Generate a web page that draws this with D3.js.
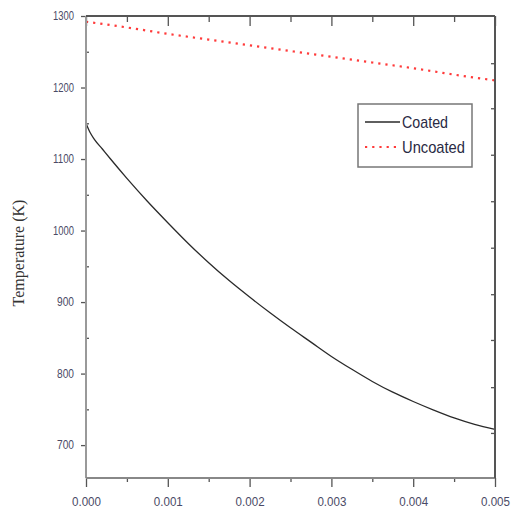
<!DOCTYPE html>
<html>
<head>
<meta charset="utf-8">
<script src="https://cdn.jsdelivr.net/npm/d3@7"></script>
<style>
  body { margin: 0; background: #fff; }
  svg { display: block; }
  .tick-label { font-family: "Liberation Sans", Arial, sans-serif; font-size: 12px; fill: #4a4a66; }
</style>
</head>
<body>
<div id="chart"></div>
<script>
// time (s) and temperatures (K)
var timeCoated = [0, 0.00005, 0.0001, 0.0002, 0.0003, 0.0005, 0.00075, 0.001, 0.00125, 0.0015, 0.00175,
                  0.002, 0.00225, 0.0025, 0.00275, 0.003, 0.00325, 0.0035, 0.00375, 0.004, 0.00425,
                  0.0045, 0.00475, 0.005];
var tempCoated = [1150, 1137, 1128, 1114, 1100, 1073, 1041, 1011, 982, 955, 930,
                  907, 885, 864, 844, 824, 806, 789, 774, 761, 749,
                  738, 729, 722];
var timeUncoated = [0, 0.0005, 0.001, 0.0015, 0.002, 0.0025, 0.003, 0.0035, 0.004, 0.0045, 0.005];
var tempUncoated = [1292, 1284, 1275, 1267, 1259, 1251, 1243, 1235, 1227, 1218, 1210];

var xTicks = [0, 0.001, 0.002, 0.003, 0.004, 0.005];
var xMinor = [0.0005, 0.0015, 0.0025, 0.0035, 0.0045];
var yTicks = [700, 800, 900, 1000, 1100, 1200, 1300];
var yMinor = [750, 850, 950, 1050, 1150, 1250];
var yRightTicks = [717, 781, 847, 911, 976, 1041, 1106, 1171, 1234];

var seriesNames = ["Coated", "Uncoated"];

var width = 512, height = 513;
var margin = {top: 16, right: 17, bottom: 35, left: 86};
var w = width - margin.left - margin.right,
    h = height - margin.top - margin.bottom;

var x = d3.scaleLinear().domain([0, 0.005]).range([0, w]);
var y = d3.scaleLinear().domain([654, 1300]).range([h, 0]);

var svg = d3.select("#chart").append("svg")
    .attr("width", width)
    .attr("height", height);

var g = svg.append("g")
    .attr("transform", "translate(" + margin.left + "," + margin.top + ")");

// curves
var coated = timeCoated.map(function(t, i) { return [t, tempCoated[i]]; });
var uncoated = timeUncoated.map(function(t, i) { return [t, tempUncoated[i]]; });

var line = d3.line()
    .x(function(d) { return x(d[0]); })
    .y(function(d) { return y(d[1]); })
    .curve(d3.curveMonotoneX);

g.append("path")
    .datum(coated)
    .attr("d", line)
    .attr("fill", "none")
    .attr("stroke", "#2a2a2a")
    .attr("stroke-width", 1.3);

g.append("path")
    .datum(uncoated)
    .attr("d", line)
    .attr("fill", "none")
    .attr("stroke", "#ff3a3a")
    .attr("stroke-width", 2.2)
    .attr("stroke-dasharray", "2.2,5");

// axes
var fmtX = d3.format(".3f");
var fmtY = d3.format("d");

var bottomAxis = g.append("g").attr("transform", "translate(0," + h + ")")
    .call(d3.axisBottom(x).tickValues(xTicks).tickSize(9).tickFormat(fmtX));
bottomAxis.append("g").call(d3.axisBottom(x).tickValues(xMinor).tickSize(4).tickFormat(""));

var leftAxis = g.append("g")
    .call(d3.axisLeft(y).tickValues(yTicks).tickSize(5).tickPadding(7).tickFormat(fmtY));
leftAxis.append("g").call(d3.axisRight(y).tickValues(yMinor).tickSize(3).tickFormat(""));

var topAxis = g.append("g")
    .call(d3.axisBottom(x).tickValues(xTicks.concat(xMinor)).tickSize(6).tickFormat(""));
topAxis.selectAll(".tick line").filter(function(d) { return xTicks.indexOf(d) >= 0; }).attr("y2", 10);

g.append("g").attr("transform", "translate(" + w + ",0)")
    .call(d3.axisLeft(y).tickValues(yRightTicks).tickSize(4).tickFormat(""));

g.selectAll(".domain").remove();
g.selectAll(".tick line").attr("stroke", "#555").attr("stroke-width", 1.3);
g.selectAll(".tick text").attr("class", "tick-label").attr("fill", null)
    .attr("lengthAdjust", "spacingAndGlyphs");
bottomAxis.selectAll(".tick text").attr("dy", "1.3em").attr("textLength", 29);
leftAxis.selectAll(".tick text").attr("textLength", function(d) { return d >= 1000 ? 21 : 17; });

// frame
g.append("line").attr("x1", 0).attr("x2", 0).attr("y1", 0).attr("y2", h)
    .attr("stroke", "#999").attr("stroke-width", 2);
g.append("line").attr("x1", 0).attr("x2", w).attr("y1", h).attr("y2", h)
    .attr("stroke", "#888").attr("stroke-width", 2);
g.append("line").attr("x1", 0).attr("x2", w).attr("y1", 0).attr("y2", 0)
    .attr("stroke", "#555").attr("stroke-width", 2);
g.append("line").attr("x1", w).attr("x2", w).attr("y1", 0).attr("y2", h)
    .attr("stroke", "#555").attr("stroke-width", 2);

// y axis title
svg.append("text")
    .attr("transform", "translate(24," + 253 + ") rotate(-90)")
    .attr("text-anchor", "middle")
    .attr("font-family", "Liberation Serif, Times New Roman, serif")
    .attr("font-size", 16)
    .attr("fill", "#333")
    .text("Temperature (K)");

// legend
var legend = svg.append("g").attr("transform", "translate(358,104)");
legend.append("rect")
    .attr("width", 114).attr("height", 63)
    .attr("fill", "#fff").attr("stroke", "#777").attr("stroke-width", 1.5);

var legendStyles = [
  {stroke: "#2a2a2a", width: 1.3, dash: null, len: 46},
  {stroke: "#ff3a3a", width: 2.2, dash: "2.2,5", len: 63}
];

seriesNames.forEach(function(name, i) {
  var yy = 18 + i * 25;
  legend.append("line")
      .attr("x1", 7).attr("x2", 42).attr("y1", yy).attr("y2", yy)
      .attr("stroke", legendStyles[i].stroke)
      .attr("stroke-width", legendStyles[i].width)
      .attr("stroke-dasharray", legendStyles[i].dash);
  legend.append("text")
      .attr("x", 44).attr("y", yy).attr("dy", "0.36em")
      .attr("font-family", "Liberation Sans, Arial, sans-serif")
      .attr("font-size", 17)
      .attr("textLength", legendStyles[i].len)
      .attr("lengthAdjust", "spacingAndGlyphs")
      .attr("fill", "#2a2a44")
      .text(name);
});
</script>
</body>
</html>
